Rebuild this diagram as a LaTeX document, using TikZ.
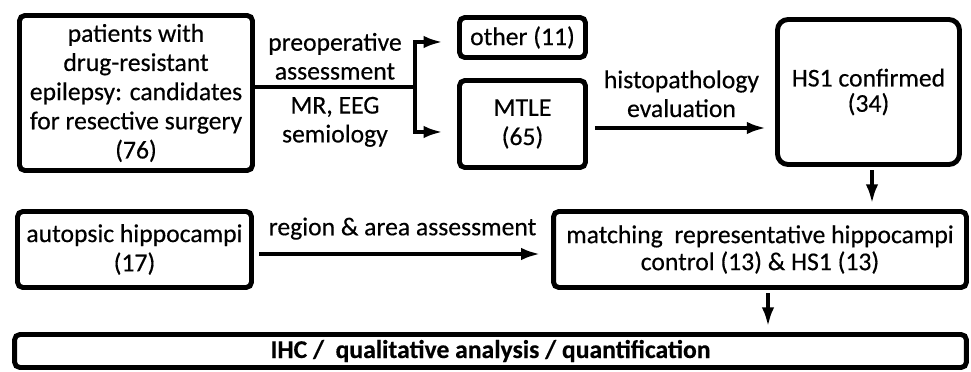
\documentclass[tikz,border=0pt]{standalone}
\usepackage{fontspec}
\setmainfont[FakeBold=0.4]{Carlito}
\usetikzlibrary{arrows.meta}
\usetikzlibrary{positioning}

\tikzset{
  box/.style={draw, line width=2.8pt, rounded corners=3pt, align=center, inner sep=2pt, font=\fontsize{14.6}{16.6}\selectfont},
  lbl/.style={align=center, inner sep=3pt, font=\fontsize{14.6}{16.4}\selectfont},
  trunk/.style={line width=2.3pt},
  flow/.style={line width=2.3pt, -{Latex[length=11pt,width=7pt]}},
}

\begin{document}
\begin{tikzpicture}[x=0.02cm, y=0.02cm]
      \useasboundingbox (0, 0) rectangle (971, 372);

      % top row
      \node [box, minimum width=4.66cm, minimum height=3.1cm] (patients) at (136, 279) {patients with\\drug-resistant\\epilepsy: candidates\\for resective surgery\\(76)};
      \node [box, minimum width=2.52cm, minimum height=0.8cm] (other) at (522.5, 334.5) {other (11)};
      \node [box, minimum width=2.52cm, minimum height=1.74cm] (mtle) at (522.5, 248) {MTLE\\(65)};
      \node [box, rounded corners=6pt, minimum width=3.64cm, minimum height=2.9cm, font=\fontsize{14.6}{14.4}\selectfont] (hs) at (868.5, 280) {HS1 confirmed\\(34)};

      % middle and bottom rows
      \node [box, minimum width=4.68cm, minimum height=1.52cm] (autopsic) at (134.5, 122.5) {autopsic hippocampi\\(17)};
      \node [box, minimum width=8.26cm, minimum height=1.52cm, font=\fontsize{14.6}{15.4}\selectfont] (matching) at (760, 122.5) {matching\ \ representative hippocampi\\control (13) \& HS1 (13)};
      \node [box, minimum width=19.04cm, minimum height=0.66cm, font=\fontsize{14.6}{16}\selectfont\bfseries] (ihc) at (490.5, 21) {IHC /\ \ qualitative analysis / quantification};

      % preoperative branching
      \coordinate (split) at (415, 285);
      \draw [trunk] (patients.east |- split) -- node [lbl, above] {preoperative\\assessment} node [lbl, below=1.5pt] {MR, EEG\\semiology} (split);
      \draw [flow, shorten >=8pt] (split) |- (other.west |- 0, 330);
      \draw [flow, shorten >=8pt] (split) |- (mtle.west |- 0, 240);

      \draw [flow, shorten <=4pt, shorten >=5pt] (mtle.east |- 0, 244) -- node [lbl, above=2pt] {histopathology\\evaluation} (hs.west |- 0, 244);
      \draw [flow, shorten <=3pt, shorten >=6pt] (autopsic.east |- 0, 118) -- node [lbl, above=4pt] {region \& area assessment} (matching.west |- 0, 118);
      \draw [flow, shorten <=2pt, shorten >=3pt] (hs.south -| 872, 0) -- (matching.north -| 872, 0);
      \draw [flow, shorten <=2pt, shorten >=3pt] (matching.south -| 768, 0) -- (ihc.north -| 768, 0);
\end{tikzpicture}
\end{document}
